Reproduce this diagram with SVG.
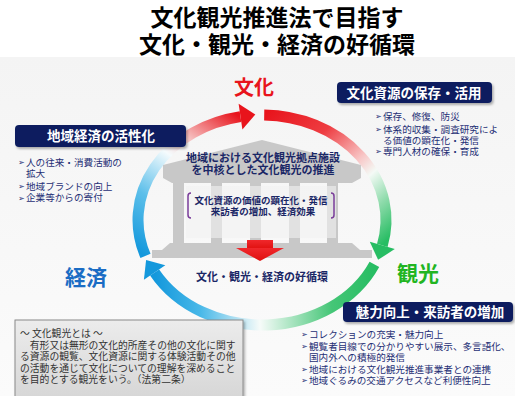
<svg xmlns="http://www.w3.org/2000/svg" width="515" height="396" viewBox="0 0 515 396">
  <defs>
    <style>
      text { font-family: "Noto Sans CJK JP", "Noto Sans", sans-serif; }
      .title { font-size: 23px; font-weight: bold; fill: #000; text-anchor: middle; }
      .hdr { font-size: 13.5px; font-weight: bold; fill: #fff; text-anchor: middle; }
      .navy { fill: #0c1f5e; }
      .bul { font-size: 9.6px; fill: #1f2f75; }
      .mark { font-size: 7.5px; fill: #1f2f75; }
      .core { font-size: 11px; font-weight: bold; fill: #1a2766; text-anchor: middle; }
      .sub { font-size: 9.5px; font-weight: bold; fill: #1a2766; text-anchor: middle; }
      .def { font-size: 9.8px; fill: #333; }
      .ring { fill: none; stroke-width: 11; }
      .temple { fill: #c8c8c8; }
    </style>
    <linearGradient id="bg" x1="0" y1="0" x2="0" y2="1">
      <stop offset="0" stop-color="#f4f4f4"/>
      <stop offset="1" stop-color="#fbfbfb"/>
    </linearGradient>
    <linearGradient id="gLeft" gradientUnits="userSpaceOnUse" x1="145" y1="256" x2="240" y2="117">
      <stop offset="0" stop-color="#1498dc"/>
      <stop offset="0.3" stop-color="#5cbfea"/>
      <stop offset="0.58" stop-color="#f5fbfd"/>
      <stop offset="0.72" stop-color="#f6c4c4"/>
      <stop offset="1" stop-color="#e8141c"/>
    </linearGradient>
    <linearGradient id="gRight" gradientUnits="userSpaceOnUse" x1="264" y1="115" x2="382" y2="245">
      <stop offset="0" stop-color="#e8141c"/>
      <stop offset="0.3" stop-color="#ee3d42"/>
      <stop offset="0.55" stop-color="#f8c6c6"/>
      <stop offset="0.66" stop-color="#f4faf6"/>
      <stop offset="0.82" stop-color="#8edbab"/>
      <stop offset="1" stop-color="#27bd63"/>
    </linearGradient>
    <linearGradient id="gBottom" gradientUnits="userSpaceOnUse" x1="374" y1="264" x2="155" y2="272">
      <stop offset="0" stop-color="#27bd63"/>
      <stop offset="0.2" stop-color="#45c677"/>
      <stop offset="0.53" stop-color="#f6fbf9"/>
      <stop offset="0.8" stop-color="#48b8e8"/>
      <stop offset="1" stop-color="#1498dc"/>
    </linearGradient>
    <linearGradient id="defFill" x1="0" y1="0" x2="0" y2="1">
      <stop offset="0" stop-color="#ececec"/>
      <stop offset="1" stop-color="#d6d6d6"/>
    </linearGradient>
    <linearGradient id="redArrow" x1="0" y1="0" x2="0" y2="1">
      <stop offset="0" stop-color="#f0282c"/>
      <stop offset="1" stop-color="#e0100f"/>
    </linearGradient>
    <filter id="shadow" x="-10%" y="-20%" width="125%" height="160%">
      <feDropShadow dx="1.5" dy="2" stdDeviation="1.2" flood-color="#000" flood-opacity="0.3"/>
    </filter>
  </defs>

  <!-- page -->
  <rect x="0" y="0" width="515" height="396" fill="#fff"/>
  <rect x="0" y="57" width="515" height="339" fill="url(#bg)"/>

  <!-- heading -->
  <g id="title">
    <text class="title" x="277" y="26">文化観光推進法で目指す</text>
    <text class="title" x="277" y="53">文化・観光・経済の好循環</text>
  </g>

  <!-- cycle ring -->
  <g id="connectors">
    <path class="ring" stroke="url(#gLeft)" d="M145.5,255.9 A124,105 0 0 1 240.5,116.6"/>
    <polygon fill="#e8141c" points="255.3,114.4 242.4,129.5 238.6,103.7"/>
    <path class="ring" stroke="url(#gRight)" d="M264.2,115 A124,105 0 0 1 382.3,245.4"/>
    <polygon fill="#27bd63" points="378.1,259.8 394.8,249.1 369.8,241.7"/>
    <path class="ring" stroke="url(#gBottom)" d="M374.4,264.4 A124,105 0 0 1 154.6,272.5"/>
    <polygon fill="#1498dc" points="146.1,260.1 165.3,265.2 143.9,279.8"/>
  </g>

  <!-- central facility -->
  <g id="facility">
    <polygon class="temple" points="262,140 361,165 163,165"/>
    <rect class="temple" x="163" y="165" width="198" height="13"/>
    <polygon class="temple" points="163,178 361,178 352,183 172,183"/>
    <rect class="temple" x="173" y="183" width="11" height="60"/>
    <rect class="temple" x="211" y="183" width="11" height="60"/>
    <rect class="temple" x="250" y="183" width="11" height="60"/>
    <rect class="temple" x="289" y="183" width="11" height="60"/>
    <rect class="temple" x="327" y="183" width="11" height="60"/>
    <rect fill="#f2f2f2" opacity="0.6" x="186" y="186" width="150" height="52"/>
    <polygon class="temple" points="170,243 352,243 360,250 162,250"/>
    <rect class="temple" x="152" y="250" width="220" height="8"/>
    <text class="core" x="263" y="162">地域における文化観光拠点施設</text>
    <text class="core" x="263" y="174">を中核とした文化観光の推進</text>
    <path d="M191,193 Q188,193 188,196 L188,215 Q188,218 191,218" fill="none" stroke="#7a3d9a" stroke-width="1.5"/>
    <path d="M331,193 Q334,193 334,196 L334,215 Q334,218 331,218" fill="none" stroke="#7a3d9a" stroke-width="1.5"/>
    <text class="sub" x="261" y="203.5">文化資源の価値の顕在化・発信</text>
    <text class="sub" x="263" y="214.5">来訪者の増加、経済効果</text>
    <rect fill="url(#redArrow)" x="247" y="240" width="26" height="9"/>
    <polygon fill="url(#redArrow)" points="236,248 284,248 260,261"/>
    <text class="core" x="262" y="281">文化・観光・経済の好循環</text>
  </g>

  <!-- stage labels -->
  <g id="label-culture">
    <text x="254" y="95" font-size="20" font-weight="bold" fill="#e8141c" text-anchor="middle">文化</text>
  </g>
  <g id="label-economy">
    <text x="86" y="285" font-size="21" font-weight="bold" fill="#1a6cc4" text-anchor="middle">経済</text>
  </g>
  <g id="label-tourism">
    <text x="418" y="281" font-size="21" font-weight="bold" fill="#22b522" text-anchor="middle">観光</text>
  </g>

  <!-- culture resources -->
  <g id="box-culture">
    <rect class="navy" x="337" y="82" width="155" height="21" rx="4" filter="url(#shadow)"/>
    <text class="hdr" x="414" y="97.5">文化資源の保存・活用</text>
    <text class="mark" x="375" y="119">➢</text><text class="bul" x="383" y="119.5">保存、修復、防災</text>
    <text class="mark" x="375" y="132">➢</text><text class="bul" x="383" y="132.5">体系的収集・調査研究によ</text>
    <text class="bul" x="383" y="143.5">る価値の顕在化・発信</text>
    <text class="mark" x="375" y="154">➢</text><text class="bul" x="383" y="154.5">専門人材の確保・育成</text>
  </g>

  <!-- regional economy -->
  <g id="box-economy">
    <rect class="navy" x="15" y="125" width="171" height="22" rx="4" filter="url(#shadow)"/>
    <text class="hdr" x="101" y="141" font-size="14">地域経済の活性化</text>
    <text class="mark" x="18" y="165">➢</text><text class="bul" x="26" y="165.5">人の往来・消費活動の</text>
    <text class="bul" x="26" y="177">拡大</text>
    <text class="mark" x="18" y="189">➢</text><text class="bul" x="26" y="189.5">地域ブランドの向上</text>
    <text class="mark" x="18" y="200.5">➢</text><text class="bul" x="26" y="201">企業等からの寄付</text>
  </g>

  <!-- visitors -->
  <g id="box-visitors">
    <rect class="navy" x="343" y="302" width="170" height="20" rx="4" filter="url(#shadow)"/>
    <text class="hdr" x="430" y="317" font-size="14">魅力向上・来訪者の増加</text>
    <text class="mark" x="301" y="337">➢</text><text class="bul" x="309" y="337.5">コレクションの充実・魅力向上</text>
    <text class="mark" x="301" y="349">➢</text><text class="bul" x="309" y="349.5">観覧者目線での分かりやすい展示、多言語化、</text>
    <text class="bul" x="309" y="360.5">国内外への積極的発信</text>
    <text class="mark" x="301" y="372">➢</text><text class="bul" x="309" y="372.5">地域における文化観光推進事業者との連携</text>
    <text class="mark" x="301" y="383">➢</text><text class="bul" x="309" y="383.5">地域ぐるみの交通アクセスなど利便性向上</text>
  </g>

  <!-- definition note -->
  <g id="definition">
    <rect x="15" y="320" width="228" height="80" fill="url(#defFill)" stroke="#8a8a8a" stroke-width="1" filter="url(#shadow)"/>
    <text class="def" x="20" y="337">～ 文化観光とは ～</text>
    <text class="def" x="20" y="348.5">　有形又は無形の文化的所産その他の文化に関す</text>
    <text class="def" x="20" y="360">る資源の観覧、文化資源に関する体験活動その他</text>
    <text class="def" x="20" y="371.5">の活動を通じて文化についての理解を深めること</text>
    <text class="def" x="20" y="383">を目的とする観光をいう。（法第二条）</text>
  </g>
</svg>
